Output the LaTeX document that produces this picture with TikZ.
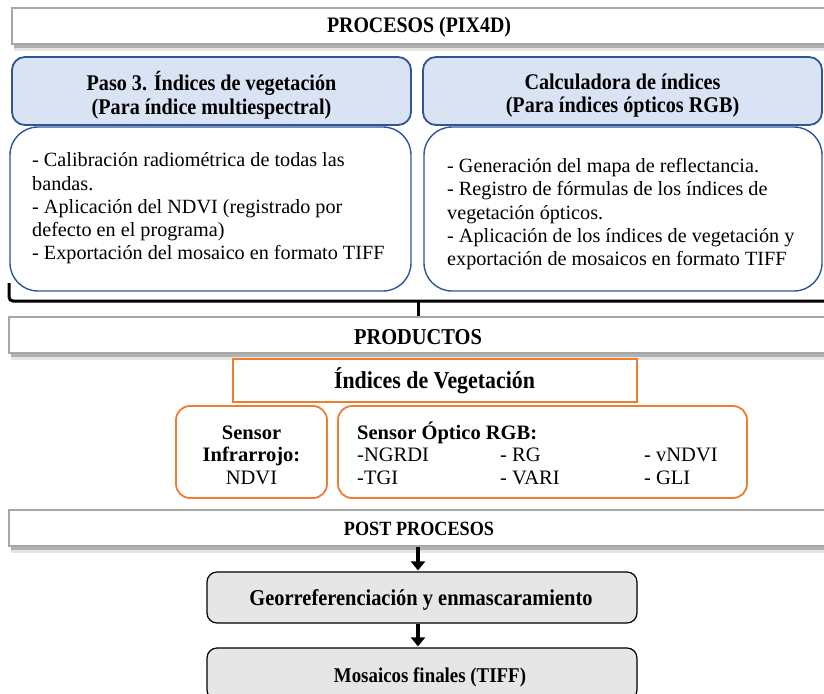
\documentclass[tikz,border=0pt]{standalone}
\usepackage{fontspec}
\setmainfont{Liberation Serif}
\newfontfamily\condserif{Liberation Serif}[FakeStretch=0.9]
\usetikzlibrary{arrows.meta,shadows}

\definecolor{bandgray}{HTML}{A6A6A6}
\definecolor{stepblue}{HTML}{2F5597}
\definecolor{stepfill}{HTML}{DAE3F3}
\definecolor{prodorange}{HTML}{ED7D31}
\definecolor{postfill}{HTML}{E7E6E6}

\newcommand{\condsize}[1]{\condserif\bfseries\fontsize{#1}{23.5}\selectfont}

\tikzset{
  band/.style={draw=bandgray, line width=1.6pt, fill=white,
    drop shadow={shadow xshift=2pt, shadow yshift=-7pt, fill=black!40, opacity=0.25},
    drop shadow={shadow xshift=2pt, shadow yshift=-4pt, fill=black!55, opacity=0.45},
    minimum height=36pt, inner sep=0pt},
  stephead/.style={draw=stepblue, line width=1.8pt, fill=stepfill,
    rounded corners=13pt, minimum height=68pt, inner sep=0pt},
  stepbody/.style={draw=stepblue, line width=1.4pt, fill=white,
    rounded corners=28pt, minimum height=164pt, inner sep=0pt},
  headtext/.style={align=center, inner sep=0pt, font=\condsize{22.4}},
  bodytext/.style={align=left, inner sep=0pt,
    font=\fontsize{20.2}{23.3}\selectfont},
  prodbox/.style={draw=prodorange, line width=1.8pt, fill=white, inner sep=0pt},
  sensorbox/.style={prodbox, rounded corners=14pt, minimum height=92pt},
  sensortext/.style={inner sep=0pt, anchor=west, font=\fontsize{20.5}{23}\selectfont},
  postbox/.style={draw=black, line width=1.2pt, fill=postfill,
    rounded corners=10pt, minimum width=430pt, inner sep=0pt},
  brace/.style={draw=black, line width=3pt},
  flow/.style={draw=black, line width=4.5pt,
    -{Triangle[width=14pt,length=9pt]}, shorten >=1pt}
}

\begin{document}
\begin{tikzpicture}[x=1pt,y=-1pt]
\useasboundingbox (0,0) rectangle (824,693);
\fill[white] (0,0) rectangle (824,693);

% Processing stage
\node[band, minimum width=814pt] (procesos) at (419,26) {};
\node[inner sep=0pt, font=\condsize{22.1}] (procesostxt) at (419,27.5) {PROCESOS (PIX4D)};

\node[stepbody, minimum width=401pt] (bodyL) at (210.5,209) {};
\node[stepbody, minimum width=398pt] (bodyR) at (623,209) {};
\node[stephead, minimum width=399pt] (headL) at (211.5,91) {};
\node[stephead, minimum width=399pt] (headR) at (622.5,91) {};
\node[headtext] (headLtxt) at (211.5,95.5)
  {Paso 3. Índices de vegetación\\(Para índice multiespectral)};
\node[headtext] (headRtxt) at (622.5,95.5)
  {Calculadora de índices\\(Para índices ópticos RGB)};

\node[bodytext, anchor=north west] (txtL) at (32,152.5)
  {- Calibración radiométrica de todas las\\
   bandas.\\
   - Aplicación del NDVI (registrado por\\
   defecto en el programa)\\
   - Exportación del mosaico en formato TIFF};
\node[bodytext, anchor=north west] (txtR) at (447,158)
  {- Generación del mapa de reflectancia.\\
   - Registro de fórmulas de los índices de\\
   vegetación ópticos.\\
   - Aplicación de los índices de vegetación y\\
   exportación de mosaicos en formato TIFF};

% Brace gathering both processing branches
\coordinate (braceL) at (9,283);
\coordinate (braceR) at (830,301);
\coordinate (braceM) at (418,301);
\draw[brace, rounded corners=4pt] (braceL) |- (braceR);
\draw[brace] (braceM) -- (418,317);

% Products
\node[band, minimum width=817pt] (productos) at (417.5,335) {};
\node[inner sep=0pt, font=\condsize{22.7}] (productostxt) at (418,337) {PRODUCTOS};

\node[prodbox, minimum width=404pt, minimum height=43pt] (indices) at (435,380.5) {};
\node[inner sep=0pt, font=\condsize{24.3}] (indicestxt) at (434.5,381) {Índices de Vegetación};

\node[sensorbox, minimum width=151pt] (sensorIR) at (251.5,452) {};
\node[align=center, inner sep=0pt, font=\fontsize{20.5}{22.5}\selectfont] (irtxt) at (251.5,455)
  {\textbf{Sensor}\\\textbf{Infrarrojo:}\\NDVI};

\node[sensorbox, minimum width=409pt] (sensorRGB) at (542.5,452) {};
\node[sensortext, font=\bfseries\fontsize{20.5}{23}\selectfont] (rgbtitle) at (357,433) {Sensor Óptico RGB:};
\node[sensortext] (ngrdi) at (357,455) {-NGRDI};
\node[sensortext] (rg)    at (500,455) {- RG};
\node[sensortext] (vndvi) at (644,455) {- vNDVI};
\node[sensortext] (tgi)   at (357,478) {-TGI};
\node[sensortext] (vari)  at (500,478) {- VARI};
\node[sensortext] (gli)   at (644,478) {- GLI};

% Post-processing
\node[band, minimum width=817pt] (post) at (417.5,528) {};
\node[inner sep=0pt, font=\condsize{20.2}] (posttxt) at (419,529) {POST PROCESOS};

\node[postbox, minimum height=51pt] (georef) at (422,597.5) {};
\node[inner sep=0pt, font=\condsize{22.7}] (georeftxt) at (421,599.5)
  {Georreferenciación y enmascaramiento};
\node[postbox, minimum height=52pt] (mosaicos) at (422,674) {};
\node[inner sep=0pt, font=\condsize{21}] (mosaicostxt) at (430,677)
  {Mosaicos finales (TIFF)};

\draw[flow] (post.south -| 418,0) -- (georef.north -| 418,0);
\draw[flow] (georef.south -| 418,0) -- (mosaicos.north -| 418,0);
\end{tikzpicture}
\end{document}
